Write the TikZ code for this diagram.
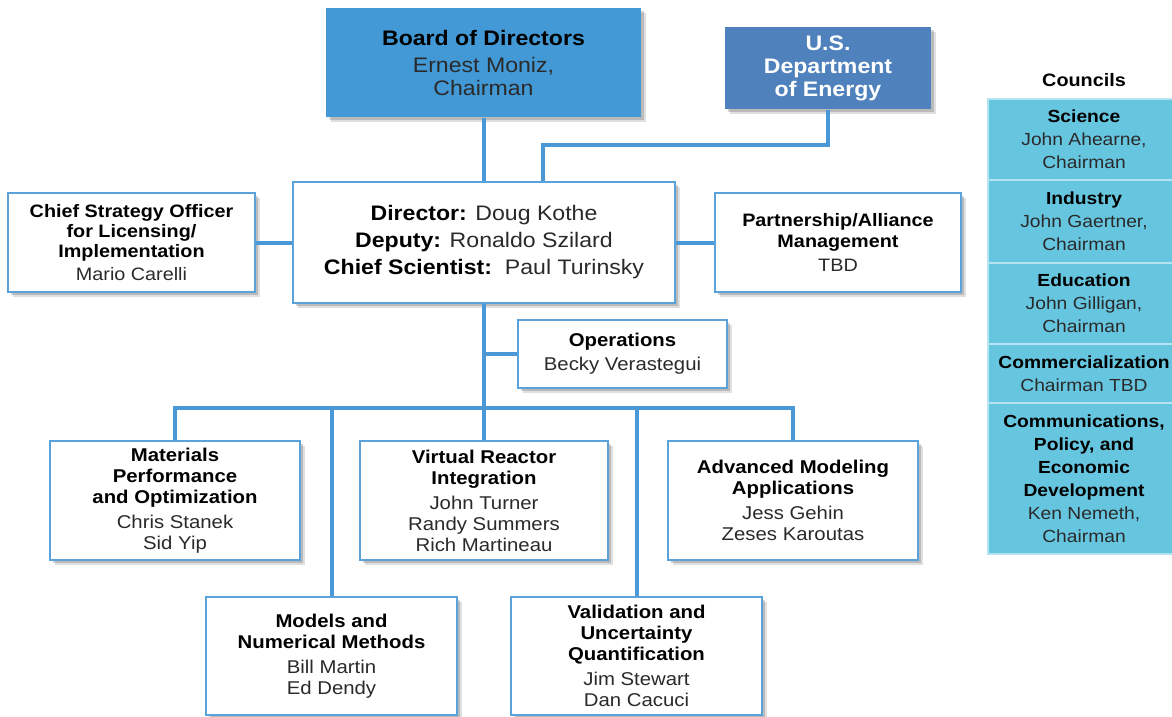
\documentclass[tikz,border=0pt]{standalone}
\usepackage{fontspec}
\setmainfont{Liberation Sans}[FakeStretch=1.1]
\usetikzlibrary{shadows}
\definecolor{conncol}{HTML}{4A98D6}
\definecolor{bordcol}{HTML}{5AA3DA}
\definecolor{boardblue}{HTML}{4299D5}
\definecolor{doeblue}{HTML}{4F81BD}
\definecolor{councilcol}{HTML}{66C6E0}
\definecolor{sepcol}{HTML}{B4E3F1}
\definecolor{namegray}{HTML}{2A2A2A}
\tikzset{
  shad/.style={drop shadow={shadow xshift=4.5pt, shadow yshift=-5pt, opacity=.18, fill=black!70},
               drop shadow={shadow xshift=2.5pt, shadow yshift=-3pt, opacity=.25, fill=black!70}},
  box/.style={draw=bordcol, line width=1.6pt, fill=white, align=center, inner sep=0pt, text=namegray, shad},
  bigtext/.style={font=\fontsize{21}{23}\selectfont},
  smalltext/.style={font=\fontsize{18.5}{21}\selectfont},
  connline/.style={draw=conncol, line width=4pt},
  cell/.style={fill=councilcol, draw=sepcol, line width=1.5pt, align=center, inner sep=0pt,
    minimum width=192pt, text=namegray, font=\fontsize{17.5}{23}\selectfont},
}
\begin{document}
\begin{tikzpicture}[x=1pt, y=-1pt]
\useasboundingbox (0,0) rectangle (1172,717);

% top
\node[box, draw=none, fill=boardblue, bigtext, minimum width=315pt, minimum height=109pt] (board) at (483.5,62.5)
  {\textcolor{black}{\textbf{Board of Directors}}\\[4pt] Ernest Moniz,\\ Chairman};
\node[box, draw=none, fill=doeblue, bigtext, text=white, minimum width=206pt, minimum height=82pt] (doe) at (828,68)
  {\textbf{U.S.}\\ \textbf{Department}\\ \textbf{of Energy}};

\node[box, font=\fontsize{21}{27}\selectfont, minimum width=382pt, minimum height=121pt] (dir) at (484,242.5)
  {\textcolor{black}{\textbf{Director:}} Doug Kothe\\ \textcolor{black}{\textbf{Deputy:}} Ronaldo Szilard\\ \textcolor{black}{\textbf{Chief Scientist:}}\ \ Paul Turinsky};

\node[box, font=\fontsize{18}{20}\selectfont, minimum width=247pt, minimum height=99pt] (cso) at (131.5,242.5)
  {\textcolor{black}{\textbf{Chief Strategy Officer}}\\ \textcolor{black}{\textbf{for Licensing/}}\\ \textcolor{black}{\textbf{Implementation}}\\[3pt] Mario Carelli};
\node[box, font=\fontsize{18}{21}\selectfont, minimum width=246pt, minimum height=99pt] (pam) at (838,242.5)
  {\textcolor{black}{\textbf{Partnership/Alliance}}\\ \textcolor{black}{\textbf{Management}}\\[3pt] TBD};

\node[box, font=\fontsize{18.5}{24}\selectfont, minimum width=209pt, minimum height=68pt] (ops) at (622.5,354)
  {\textcolor{black}{\textbf{Operations}}\\ Becky Verastegui};

% focus areas
\node[box, smalltext, minimum width=250pt, minimum height=119pt] (mat) at (175,500.5)
  {\textcolor{black}{\textbf{Materials}}\\ \textcolor{black}{\textbf{Performance}}\\ \textcolor{black}{\textbf{and Optimization}}\\[4pt] Chris Stanek\\ Sid Yip};
\node[box, smalltext, minimum width=248pt, minimum height=119pt] (vri) at (484,500.5)
  {\textcolor{black}{\textbf{Virtual Reactor}}\\ \textcolor{black}{\textbf{Integration}}\\[4pt] John Turner\\ Randy Summers\\ Rich Martineau};
\node[box, smalltext, minimum width=250pt, minimum height=119pt] (ama) at (793,500.5)
  {\textcolor{black}{\textbf{Advanced Modeling}}\\ \textcolor{black}{\textbf{Applications}}\\[4pt] Jess Gehin\\ Zeses Karoutas};
\node[box, smalltext, minimum width=251pt, minimum height=118pt] (mnm) at (331.5,656)
  {\textcolor{black}{\textbf{Models and}}\\ \textcolor{black}{\textbf{Numerical Methods}}\\[4pt] Bill Martin\\ Ed Dendy};
\node[box, smalltext, minimum width=251pt, minimum height=118pt] (vuq) at (636.5,656)
  {\textcolor{black}{\textbf{Validation and}}\\ \textcolor{black}{\textbf{Uncertainty}}\\ \textcolor{black}{\textbf{Quantification}}\\[4pt] Jim Stewart\\ Dan Cacuci};

% councils
\node[font=\fontsize{18}{21}\selectfont\bfseries, text=black] (ctitle) at (1084,80) {Councils};
\node[cell, minimum height=81pt] (sci) at (1084,139.5) {\textcolor{black}{\textbf{Science}}\\ John Ahearne,\\ Chairman};
\node[cell, minimum height=83pt] (ind) at (1084,221.5) {\textcolor{black}{\textbf{Industry}}\\ John Gaertner,\\ Chairman};
\node[cell, minimum height=81pt] (edu) at (1084,303.5) {\textcolor{black}{\textbf{Education}}\\ John Gilligan,\\ Chairman};
\node[cell, minimum height=59pt] (com) at (1084,373.5) {\textcolor{black}{\textbf{Commercialization}}\\ Chairman TBD};
\node[cell, minimum height=151pt] (cpe) at (1084,478.5) {\textcolor{black}{\textbf{Communications,}}\\ \textcolor{black}{\textbf{Policy, and}}\\ \textcolor{black}{\textbf{Economic}}\\ \textcolor{black}{\textbf{Development}}\\ Ken Nemeth,\\ Chairman};

% connectors
\coordinate (doej) at (543,145);
\coordinate (bus) at (484,408);
\coordinate (opsj) at (484,354);
\draw[connline] (board.south) -- (board.south |- dir.north);
\draw[connline] (doe.south) |- (doej) -- (doej |- dir.north);
\draw[connline] (cso.east) -- (dir.west);
\draw[connline] (dir.east) -- (pam.west);
\draw[connline] (dir.south) -- (bus);
\draw[connline] (opsj) -- (ops.west);
\draw[connline] (mat.north) -- (mat.north |- bus) -- (ama.north |- bus) -- (ama.north);
\draw[connline] (bus) -- (vri.north);
\draw[connline] (mnm.north |- bus) -- (mnm.north);
\draw[connline] (vuq.north |- bus) -- (vuq.north);
\end{tikzpicture}
\end{document}
